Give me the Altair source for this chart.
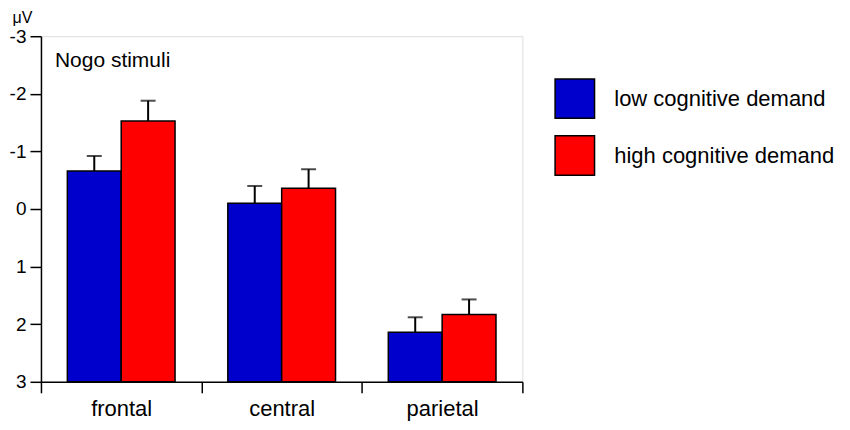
import altair as alt
import pandas as pd

regions = ["frontal", "central", "parietal"]
groups = ["low cognitive demand", "high cognitive demand"]
low_mean = [-0.66, -0.10, 2.14]
low_err = [-0.92, -0.40, 1.88]
high_mean = [-1.53, -0.36, 1.83]
high_err = [-1.88, -0.69, 1.57]
y_ticks = [-3, -2, -1, 0, 1, 2, 3]
colors = ["#0000CC", "#FF0000"]

rows = []
for i, r in enumerate(regions):
    rows.append({"region": r, "group": groups[0], "value": low_mean[i], "err": low_err[i]})
    rows.append({"region": r, "group": groups[1], "value": high_mean[i], "err": high_err[i]})
df = pd.DataFrame(rows)

FONT = "Liberation Sans"

xaxis = alt.Axis(title=None, tickBand="extent", labelAngle=0, labelFontSize=22,
                 labelFont=FONT, labelColor="black", tickSize=11, tickWidth=1.5,
                 tickColor="black", domainColor="black", domainWidth=1.5,
                 labelPadding=6)
x = alt.X("region:N", sort=regions, scale=alt.Scale(paddingInner=0, paddingOuter=0), axis=xaxis)
xo = alt.XOffset("group:N", sort=groups, scale=alt.Scale(paddingInner=0, paddingOuter=0.49))
yscale = alt.Scale(domain=[-3, 3], reverse=True, nice=False)
yaxis = alt.Axis(values=y_ticks, labelExpr="'' + datum.value", grid=False, title="μV",
                 titleAngle=0, titleX=-29, titleY=-14, titleAlign="left",
                 titleBaseline="alphabetic",
                 titleFont=FONT, titleFontSize=16, titleFontWeight="normal", titleColor="black",
                 labelFont=FONT, labelFontSize=19, labelColor="black", tickSize=11,
                 tickWidth=1.5, tickColor="black", domainColor="black", domainWidth=1.5,
                 labelPadding=4)

base = alt.Chart(df)

bars = base.mark_bar(stroke="black", strokeWidth=1.5).encode(
    x=x, xOffset=xo,
    y=alt.Y("value:Q", scale=yscale, axis=yaxis),
    y2=alt.datum(3),
    color=alt.Color("group:N", sort=groups,
                    scale=alt.Scale(domain=groups, range=colors),
                    legend=alt.Legend(title=None, orient="none", legendX=514, legendY=42,
                                      symbolType="square", symbolSize=1560,
                                      symbolStrokeColor="black", symbolStrokeWidth=1.5,
                                      symbolOpacity=1, labelFont=FONT, labelFontSize=22,
                                      labelColor="black", labelOffset=19, rowPadding=10,
                                      labelLimit=400, padding=0)),
)

rule = base.mark_rule(color="black", strokeWidth=2).encode(
    x=x, xOffset=xo, y=alt.Y("value:Q", scale=yscale, axis=yaxis), y2="err:Q"
)
cap = base.mark_tick(color="black", orient="horizontal", size=15, thickness=2).encode(
    x=x, xOffset=xo, y=alt.Y("err:Q", scale=yscale, axis=yaxis)
)

chart = alt.layer(bars, rule, cap).properties(
    width=482, height=346,
    title=alt.TitleParams("Nogo stimuli", anchor="start", frame="group", dx=14, dy=30,
                          font=FONT, fontSize=21, fontWeight="normal", color="black",
                          baseline="top", offset=-32),
    autosize=alt.AutoSizeParams(type="none"),
    padding={"left": 33, "top": 28, "right": 320, "bottom": 40},
).configure_view(strokeWidth=0).configure(background="white")

chart.save("out.html", embed_options={"renderer": "svg", "actions": False})
